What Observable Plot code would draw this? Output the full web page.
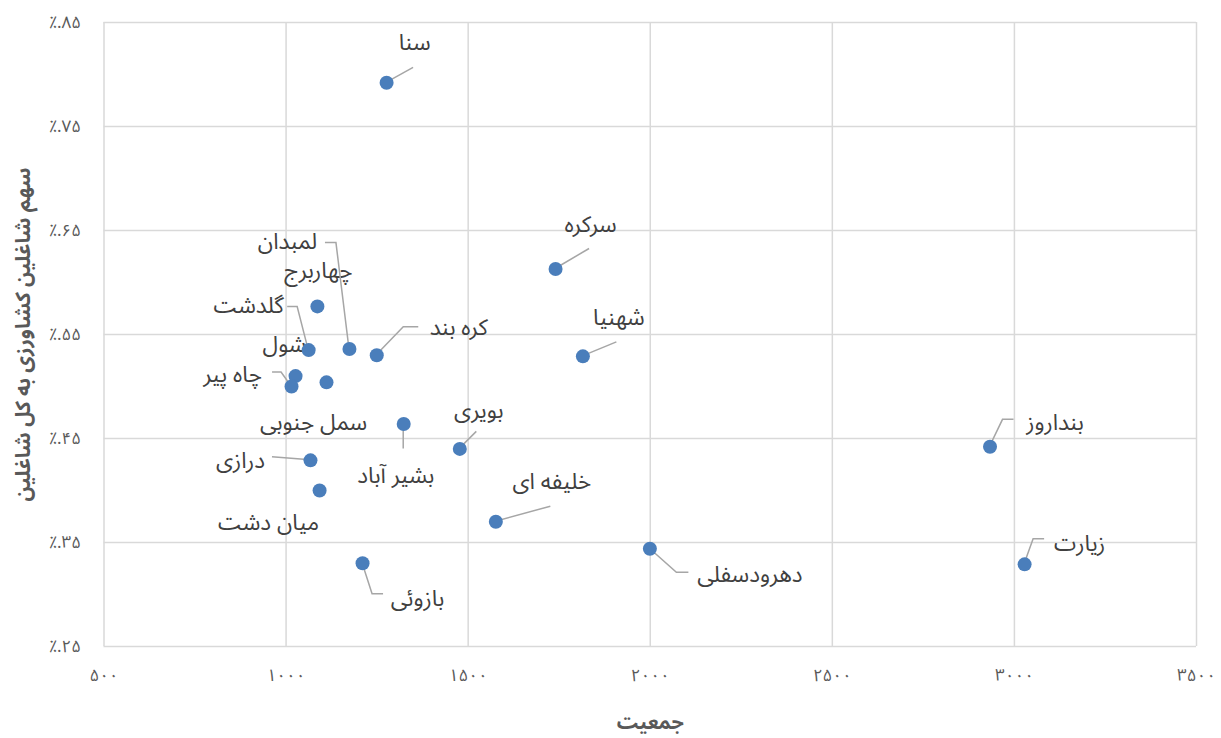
<!DOCTYPE html>
<html><head><meta charset="utf-8">
<script src="https://cdn.jsdelivr.net/npm/d3@7"></script>
<script src="https://cdn.jsdelivr.net/npm/@observablehq/plot@0.6"></script>
<style>
body{margin:0;background:#fff;}
#chart svg{display:block;}
</style>
</head><body><div id="chart"></div>
<script>
// ---- data ----
const names = ["سنا","سرکره","شهنیا","کره بند","لمبدان","چهاربرج","گلدشت","شول","چاه پیر","سمل جنوبی","بشیر آباد","بویری","درازی","میان دشت","خلیفه ای","بازوئی","دهرودسفلی","بنداروز","زیارت"];
const population = [1276,1740,1815,1249,1174,1086,1062,1026,1015,1111,1323,1477,1067,1092,1576,1210,1999,2933,3028];
const share = [0.792,0.613,0.529,0.530,0.536,0.577,0.535,0.510,0.500,0.504,0.464,0.440,0.429,0.400,0.370,0.330,0.344,0.442,0.329];
const xTicks = [500,1000,1500,2000,2500,3000,3500];
const xTickLabels = ["۵۰۰","۱۰۰۰","۱۵۰۰","۲۰۰۰","۲۵۰۰","۳۰۰۰","۳۵۰۰"];
const yTicks = [0.25,0.35,0.45,0.55,0.65,0.75,0.85];
const yTickLabels = ["٪.۲۵","٪.۳۵","٪.۴۵","٪.۵۵","٪.۶۵","٪.۷۵","٪.۸۵"];
const xTitle = "جمعیت";
const yTitle = "سهم شاغلین کشاورزی به کل شاغلین";

// ---- label layout (pixel offsets of label centre from its point; leader vertices) ----
const labelLayout = {
  "سنا":       {dx: 28, dy:-40, leader:[[0,0],[27,-15]]},
  "سرکره":     {dx: 35, dy:-44, leader:[[0,0],[34,-20]]},
  "شهنیا":     {dx: 36, dy:-39, leader:[[0,0],[34,-14]]},
  "کره بند":   {dx: 82, dy:-28, leader:[[0,0],[27,-28],[42,-28]]},
  "لمبدان":    {dx:-62, dy:-107, leader:[[0,0],[-13,-106],[-24,-106]]},
  "چهاربرج":   {dx: 1, dy:-36, leader:null},
  "گلدشت":     {dx:-60, dy:-44, leader:[[0,0],[-11,-43],[-21,-43]]},
  "شول":       {dx:-11, dy:-31, leader:null},
  "چاه پیر":   {dx:-59, dy:-12, leader:[[0,0],[-10,-14],[-19,-14]]},
  "سمل جنوبی": {dx:-13, dy: 40, leader:null},
  "بشیر آباد": {dx: -8, dy: 52, leader:[[0,0],[0,25]]},
  "بویری":     {dx: 19, dy:-38, leader:[[0,0],[17,-17]]},
  "درازی":     {dx:-70, dy:  0, leader:[[0,0],[-38,-3]]},
  "میان دشت":  {dx:-51, dy: 32, leader:null},
  "خلیفه ای":  {dx: 56, dy:-40, leader:[[0,0],[55,-15]]},
  "بازوئی":    {dx: 55, dy: 35, leader:[[0,0],[10,31],[21,31]]},
  "دهرودسفلی": {dx:100, dy: 26, leader:[[0,0],[27,24],[39,24]]},
  "بنداروز":   {dx: 65, dy:-24, leader:[[0,0],[13,-27],[24,-27]]},
  "زیارت":     {dx: 55, dy:-21, leader:[[0,0],[9,-25],[20,-25]]}
};

const FONT = "'Noto Sans Arabic', 'DejaVu Sans', sans-serif";
const data = names.map((n, i) => ({name: n, x: population[i], y: share[i]}));

const labelMarks = data.map(d => {
  const L = labelLayout[d.name];
  return Plot.text([d], {x: "x", y: "y", text: "name", dx: L.dx, dy: L.dy,
    fontSize: 22.5, fill: "#404040", textAnchor: "middle", lineAnchor: "middle"});
});

const chart = Plot.plot({
  width: 1221,
  height: 738,
  marginLeft: 103.5,
  marginRight: 25,
  marginTop: 22,
  marginBottom: 92,
  style: {fontFamily: FONT, background: "#fff"},
  x: {domain: [500, 3500], label: null},
  y: {domain: [0.25, 0.85], label: null},
  marks: [
    Plot.gridX(xTicks, {stroke: "#d9d9d9", strokeOpacity: 1, strokeWidth: 1.5}),
    Plot.gridY(yTicks, {stroke: "#d9d9d9", strokeOpacity: 1, strokeWidth: 1.5}),
    Plot.axisX({ticks: xTicks, tickFormat: d => xTickLabels[xTicks.indexOf(d)], tickSize: 0, tickPadding: 22, fontSize: 17, fill: "#595959"}),
    Plot.axisY({ticks: yTicks, tickFormat: d => yTickLabels[yTicks.indexOf(d)], tickSize: 0, tickPadding: 23, fontSize: 17, fill: "#595959"}),
    Plot.text([xTitle], {frameAnchor: "bottom", dy: 76, textAnchor: "middle", lineAnchor: "middle", fontSize: 20, fontWeight: "bold", fill: "#595959"}),
    Plot.text([yTitle], {frameAnchor: "left", dx: -81, rotate: -90, textAnchor: "middle", lineAnchor: "middle", fontSize: 20.5, fontWeight: "bold", fill: "#595959"}),
    ...labelMarks,
    Plot.dot(data, {x: "x", y: "y", r: 7, fill: "#4a7ebb", stroke: "none"})
  ]
});

document.getElementById("chart").appendChild(chart);

// leader lines, positioned through the plot's own scales
const sx = chart.scale("x"), sy = chart.scale("y");
const svg = d3.select(chart);
const gLead = svg.insert("g", "g[aria-label='dot']").attr("fill", "none").attr("stroke", "#a6a6a6").attr("stroke-width", 1.5);
data.forEach(d => {
  const L = labelLayout[d.name];
  if (!L.leader) return;
  const px = sx.apply(d.x), py = sy.apply(d.y);
  gLead.append("path").attr("d", d3.line()(L.leader.map(([a, b]) => [px + a, py + b])));
});
</script>
</body></html>
